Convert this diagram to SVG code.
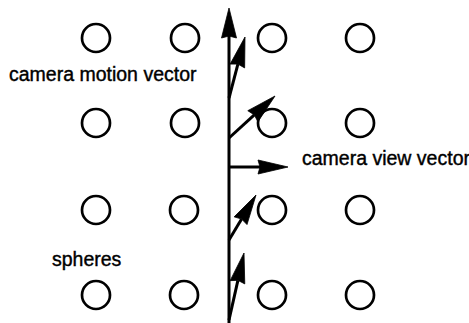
<svg xmlns="http://www.w3.org/2000/svg" width="469" height="323" viewBox="0 0 469 323">
<style>
.s{fill:none;stroke:#000;stroke-width:2.7}
.c{fill:none;stroke:#000;stroke-width:3}
.h{fill:#000;stroke:#000;stroke-width:0.8;stroke-linejoin:miter}
.t{font-family:"Liberation Sans",Arial,sans-serif;font-size:19.5px;fill:#000;stroke:#000;stroke-width:0.4}
</style>
<rect width="469" height="323" fill="#fff"/>
<g id="spheres">
<g id="s11"><circle class="s" cx="96" cy="38" r="14"/></g>
<g id="s12"><circle class="s" cx="185" cy="38" r="14"/></g>
<g id="s13"><circle class="s" cx="272" cy="38" r="14"/></g>
<g id="s14"><circle class="s" cx="360" cy="38" r="14"/></g>
<g id="s21"><circle class="s" cx="96" cy="123" r="14"/></g>
<g id="s22"><circle class="s" cx="185" cy="123" r="14"/></g>
<g id="s23"><circle class="s" cx="272" cy="123" r="14"/></g>
<g id="s24"><circle class="s" cx="360" cy="123" r="14"/></g>
<g id="s31"><circle class="s" cx="96" cy="210" r="14"/></g>
<g id="s32"><circle class="s" cx="184" cy="210" r="14"/></g>
<g id="s33"><circle class="s" cx="272" cy="210" r="14"/></g>
<g id="s34"><circle class="s" cx="360" cy="210" r="14"/></g>
<g id="s41"><circle class="s" cx="96" cy="295" r="14"/></g>
<g id="s42"><circle class="s" cx="184" cy="295" r="14"/></g>
<g id="s43"><circle class="s" cx="272" cy="295" r="14"/></g>
<g id="s44"><circle class="s" cx="360" cy="295" r="14"/></g>
</g>
<g id="connectors">
<line class="c" x1="229" y1="323" x2="229" y2="30"/>
<polygon class="h" points="229,8 236.5,38 229,36 221.5,38"/>
<line class="c" x1="229" y1="98" x2="237.9" y2="64.1"/>
<polygon class="h" points="245,37 244.64,67.92 237.9,64.08 230.14,64.12"/>
<line class="c" x1="229" y1="138" x2="254.3" y2="114.9"/>
<polygon class="h" points="275,96 257.91,121.77 254.32,114.88 247.79,110.69"/>
<line class="c" x1="229" y1="167" x2="260" y2="167"/>
<polygon class="h" points="288,167 258,174 260,167 258,160"/>
<line class="c" x1="229" y1="240" x2="241.6" y2="219"/>
<polygon class="h" points="256,195 247.0,224.58 241.59,219.01 234.14,216.86"/>
<line class="c" x1="229" y1="320" x2="237.9" y2="280.3"/>
<polygon class="h" points="244,253 244.77,283.91 237.88,280.32 230.13,280.63"/>
</g>
<g id="labels">
<text class="t" x="9" y="81">camera motion vector</text>
<text class="t" x="302" y="165">camera view vector</text>
<text class="t" x="52" y="266">spheres</text>
</g>
</svg>
